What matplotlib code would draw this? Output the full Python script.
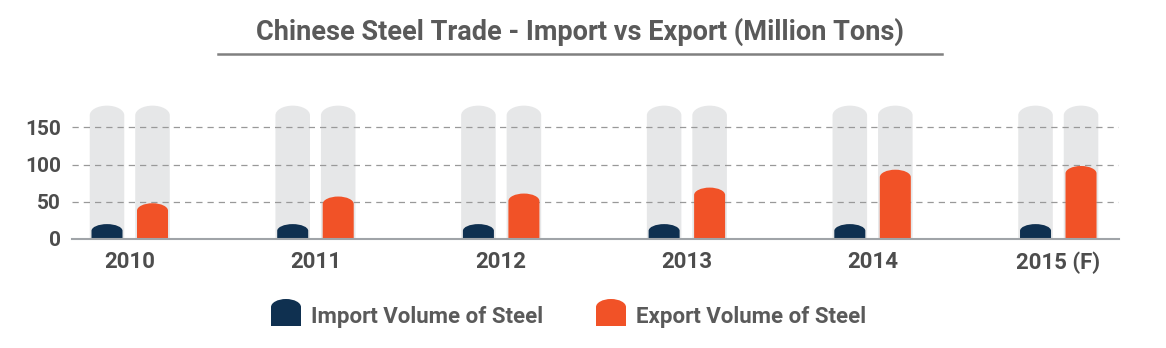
import matplotlib
matplotlib.use("Agg")
import matplotlib.pyplot as plt
from matplotlib.path import Path
from matplotlib.patches import PathPatch
from matplotlib.lines import Line2D
import numpy as np

years = ["2010", "2011", "2012", "2013", "2014", "2015 (F)"]
imports = [20, 20, 20, 20, 20, 20]
exports = [48, 57, 61, 69, 93, 98]
bg_height = 179
yticks = [0, 50, 100, 150]

navy = "#0f3050"
orange = "#f15227"
light = "#e6e7e8"
grey_txt = "#4d4d4d"

plt.rcParams["font.family"] = ["Roboto", "DejaVu Sans"]


def pill(xc, w, h, cap):
    # rectangle with half-ellipse top, bottom on 0
    cap = min(cap, h)
    k = 0.5523
    x0, x1 = xc - w / 2, xc + w / 2
    verts = [(x0, 0), (x0, h - cap),
             (x0, h - cap + k * cap), (xc - k * w / 2, h), (xc, h),
             (xc + k * w / 2, h), (x1, h - cap + k * cap), (x1, h - cap),
             (x1, 0), (x0, 0)]
    codes = [Path.MOVETO, Path.LINETO,
             Path.CURVE4, Path.CURVE4, Path.CURVE4,
             Path.CURVE4, Path.CURVE4, Path.CURVE4,
             Path.LINETO, Path.CLOSEPOLY]
    return Path(verts, codes)


fig = plt.figure(figsize=(11.66, 3.48), dpi=100)
ax = fig.add_axes([72 / 1166, 1 - 239 / 348, 1047 / 1166, 180 * 0.745 / 348])

x = np.arange(len(years))
off = 0.1225
bw_bg = 0.186
bw = 0.167

for i in range(len(years)):
    for dx in (-off, off):
        ax.add_patch(PathPatch(pill(x[i] + dx, bw_bg, bg_height, 13), fc=light, ec="none", zorder=1))
    ax.add_patch(PathPatch(pill(x[i] - off, bw, imports[i], 9), fc=navy, ec="none", zorder=3))
    ax.add_patch(PathPatch(pill(x[i] + off, bw, exports[i], 10), fc=orange, ec="none", zorder=3))

ax.set_xlim(-0.311, 5.327)
ax.set_ylim(0, 180)

for v in yticks[1:]:
    ax.axhline(v, color="#999999", lw=0.9, ls=(0, (5, 4)), zorder=2)

for s in ["top", "right", "left"]:
    ax.spines[s].set_visible(False)
ax.spines["bottom"].set_color("#a0a4a8")
ax.spines["bottom"].set_linewidth(1.5)
ax.spines["bottom"].set_zorder(4)

ax.set_yticks(yticks)
ax.set_yticklabels([str(t) for t in yticks], fontsize=15, fontweight="bold", color=grey_txt)
ax.set_xticks(x)
ax.set_xticklabels(years, fontsize=16, fontweight="bold", color=grey_txt)
ax.tick_params(axis="both", length=0)
ax.tick_params(axis="y", pad=8)
ax.tick_params(axis="x", pad=9)

# title with underline
fig.text(580 / 1166, 1 - 32 / 348, "Chinese Steel Trade - Import vs Export (Million Tons)",
         ha="center", va="center", fontsize=19.5, fontweight="bold", color="#5a5a5a")
fig.add_artist(Line2D([218 / 1166, 942 / 1166], [1 - 54 / 348, 1 - 54 / 348],
                      transform=fig.transFigure, color="#808080", lw=1.8))

# legend
legend_items = [("Import Volume of Steel", navy, 271), ("Export Volume of Steel", orange, 596)]
for label, col, px in legend_items:
    p = pill(0, 1, 1, 0.3)
    verts = [((px + 15 + vx * 30) / 1166, 1 - (326 - vy * 27) / 348) for vx, vy in p.vertices]
    fig.add_artist(PathPatch(Path(verts, p.codes), fc=col, ec="none", transform=fig.transFigure))
    fig.text((px + 40) / 1166, 1 - 317 / 348, label, ha="left", va="center",
             fontsize=16, fontweight="bold", color="#5a5a5a")

fig.savefig("out.png", dpi=100)
